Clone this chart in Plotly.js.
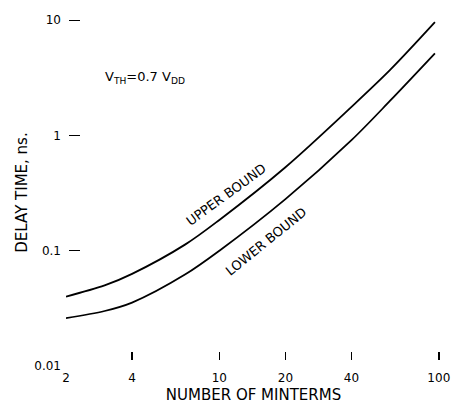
<!DOCTYPE html>
<html>
<head>
<meta charset="utf-8">
<script src="https://cdn.plot.ly/plotly-3.0.1.min.js"></script>
<style>html,body{margin:0;padding:0;background:#fff;}#chart{width:453px;height:405px;}</style>
</head>
<body>
<div id="chart"></div>
<script>
// Data (log-log)
const minterms   = [2, 3, 4, 7, 10, 20, 40, 60, 96];
const upperBound = [0.040, 0.050, 0.063, 0.1135, 0.185, 0.53, 1.77, 3.7, 9.6];
const lowerBound = [0.026, 0.030, 0.0355, 0.0624, 0.100, 0.28, 0.91, 2.0, 5.15];

const xTickVals   = [2, 4, 10, 20, 40, 100];
const xTickText   = ['2', '4', '10', '20', '40', '100'];
const xTickMarks  = [4, 10, 20, 40, 100];
const yTickVals   = [0.01, 0.1, 1, 10];
const yTickText   = ['0.01', '0.1', '1', '10'];
const yTickMarks  = [0.1, 1, 10];

const seriesLabels = ['UPPER BOUND', 'LOWER BOUND'];
const xTitle = 'NUMBER OF MINTERMS';
const yTitle = 'DELAY TIME, ns.';
const noteText = 'V<sub>TH</sub>=0.7 V<sub>DD</sub>';

const FONT = 'DejaVu Sans, Arial, sans-serif';
const xRange = [Math.log10(2), 2.01];
const yRange = [-2, 1.01];

const traces = [
  {x: minterms, y: upperBound, mode: 'lines', name: seriesLabels[0],
   line: {color: '#000', width: 1.8, shape: 'spline', smoothing: 0.9}, hoverinfo: 'skip'},
  {x: minterms, y: lowerBound, mode: 'lines', name: seriesLabels[1],
   line: {color: '#000', width: 1.8, shape: 'spline', smoothing: 0.9}, hoverinfo: 'skip'},
  // carrier for the tick-mark axes (draws nothing); axes in log10 units
  {x: minterms.map(Math.log10), y: upperBound.map(Math.log10), mode: 'none',
   xaxis: 'x2', yaxis: 'y2', hoverinfo: 'skip', showlegend: false}
];

const layout = {
  width: 453, height: 405,
  margin: {l: 66, r: 12, t: 19, b: 39},
  paper_bgcolor: '#fff', plot_bgcolor: '#fff',
  showlegend: false,
  font: {family: FONT, color: '#000', size: 12},
  xaxis: {
    type: 'log', range: xRange, tickmode: 'array', tickvals: xTickVals, ticktext: xTickText,
    ticks: '', showline: false, showgrid: false, zeroline: false, automargin: false,
    ticklabelstandoff: 3,
    tickfont: {family: FONT, size: 12, color: '#000'},
    title: {text: xTitle, font: {family: FONT, size: 15, color: '#000'}, standoff: 5}
  },
  yaxis: {
    type: 'log', range: yRange, tickmode: 'array', tickvals: yTickVals, ticktext: yTickText,
    ticks: '', showline: false, showgrid: false, zeroline: false, automargin: false,
    ticklabelstandoff: 4,
    tickfont: {family: FONT, size: 12, color: '#000'},
    title: {text: yTitle, font: {family: FONT, size: 15, color: '#000'}, standoff: 3}
  },
  xaxis2: {
    type: 'linear', range: xRange, overlaying: 'x', anchor: 'free', position: 0.017,
    tickmode: 'array', tickvals: xTickMarks.map(Math.log10), ticks: 'inside', ticklen: 8, tickwidth: 1.6, tickcolor: '#000',
    showticklabels: false, showline: false, showgrid: false, zeroline: false
  },
  yaxis2: {
    type: 'linear', range: yRange, overlaying: 'y', anchor: 'free', position: 0.006,
    tickmode: 'array', tickvals: yTickMarks.map(Math.log10), ticks: 'inside', ticklen: 11, tickwidth: 1.3, tickcolor: '#000',
    showticklabels: false, showline: false, showgrid: false, zeroline: false
  },
  annotations: [
    {xref: 'paper', yref: 'paper', x: 0.098, y: 0.832, xanchor: 'left', yanchor: 'middle',
     text: noteText, showarrow: false, font: {family: FONT, size: 13, color: '#000'}},
    {xref: 'paper', yref: 'paper', x: 0.428, y: 0.493, text: seriesLabels[0], textangle: -36,
     showarrow: false, font: {family: FONT, size: 13, color: '#000'}},
    {xref: 'paper', yref: 'paper', x: 0.533, y: 0.360, text: seriesLabels[1], textangle: -39,
     showarrow: false, font: {family: FONT, size: 13, color: '#000'}}
  ]
};

Plotly.newPlot('chart', traces, layout, {staticPlot: true, displayModeBar: false});
</script>
</body>
</html>
